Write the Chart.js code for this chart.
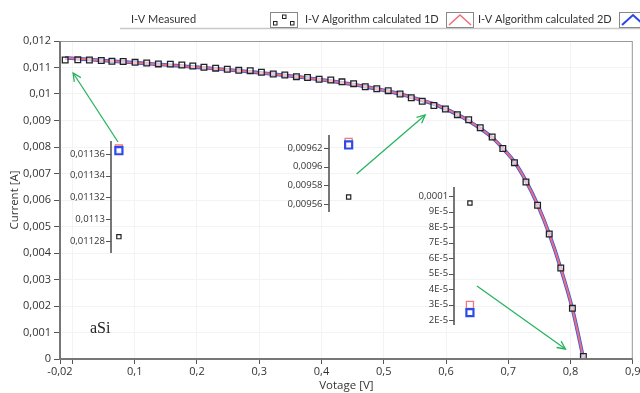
<!DOCTYPE html>
<html>
<head>
<meta charset="utf-8">
<script src="https://cdn.jsdelivr.net/npm/chart.js@4.4.0/dist/chart.umd.min.js"></script>
<style>
  html, body { margin: 0; padding: 0; background: #fff; }
  #wrap { width: 640px; height: 393px; }
</style>
</head>
<body>
<div id="wrap"><canvas id="myChart"></canvas></div>
<script>
// measured I-V points (aSi cell)
const voltage = [-0.0117, 0.0086, 0.0272, 0.0463, 0.0634, 0.0815, 0.1006, 0.1193, 0.1380, 0.1572,
    0.1757, 0.1933, 0.2112, 0.2300, 0.2487, 0.2671, 0.2855, 0.3035, 0.3225, 0.3411,
    0.3597, 0.3776, 0.3962, 0.4149, 0.4329, 0.4516, 0.4703, 0.4888, 0.5072, 0.5262,
    0.5442, 0.5618, 0.5805, 0.5990, 0.6182, 0.6364, 0.6550, 0.6741, 0.6912, 0.7099,
    0.7284, 0.7471, 0.7658, 0.7843, 0.8030, 0.8206];
const measured = [0.011284, 0.011290, 0.011285, 0.011265, 0.011234, 0.011228, 0.011196, 0.011170, 0.011135, 0.011128,
    0.011094, 0.011057, 0.011010, 0.010975, 0.010932, 0.010894, 0.010880, 0.010819, 0.010755, 0.010717,
    0.010653, 0.010623, 0.010558, 0.010528, 0.010460, 0.010389, 0.010275, 0.010200, 0.010125, 0.010000,
    0.009860, 0.009725, 0.009568, 0.009434, 0.009219, 0.009030, 0.008728, 0.008377, 0.007943, 0.007408,
    0.006679, 0.005800, 0.004717, 0.003434, 0.001913, 0.0000955];
const calc1D = [0.011365, 0.011332, 0.011302, 0.011271, 0.011241, 0.011211, 0.011180, 0.011148, 0.011118, 0.011087,
    0.011055, 0.011022, 0.010988, 0.010952, 0.010915, 0.010877, 0.010837, 0.010795, 0.010752, 0.010706,
    0.010657, 0.010605, 0.010550, 0.010491, 0.010427, 0.010357, 0.010280, 0.010196, 0.010103, 0.009999,
    0.009882, 0.009760, 0.009626, 0.009440, 0.009230, 0.008985, 0.008700, 0.008360, 0.007950, 0.007440,
    0.006720, 0.005820, 0.004720, 0.003420, 0.001900, 0.0000298];
const calc2D = [0.011363, 0.011331, 0.011301, 0.011270, 0.011241, 0.011211, 0.011181, 0.011149, 0.011118, 0.011087,
    0.011055, 0.011022, 0.010988, 0.010952, 0.010915, 0.010876, 0.010836, 0.010794, 0.010750, 0.010704,
    0.010655, 0.010603, 0.010548, 0.010489, 0.010425, 0.010355, 0.010278, 0.010194, 0.010101, 0.009997,
    0.009880, 0.009757, 0.009623, 0.009437, 0.009228, 0.008983, 0.008698, 0.008358, 0.007948, 0.007438,
    0.006718, 0.005818, 0.004718, 0.003418, 0.001898, 0.0000248];

// zoom insets: first point, knee point, last point
const insetMeasured = [0.011284, 0.0095675, 0.0000955];
const insetCalc1D = [0.011365, 0.0096264, 0.0000298];
const insetCalc2D = [0.011363, 0.0096232, 0.0000248];

// tick labels
const xTicks = [-0.02, 0, 0.1, 0.2, 0.3, 0.4, 0.5, 0.6, 0.7, 0.8, 0.9];
const yTicks = [0, 0.001, 0.002, 0.003, 0.004, 0.005, 0.006, 0.007, 0.008, 0.009, 0.01, 0.011, 0.012];
const inset1Ticks = [0.01128, 0.0113, 0.01132, 0.01134, 0.01136];
const inset2Ticks = [0.00956, 0.00958, 0.0096, 0.00962];
const inset3Ticks = [0.00002, 0.00003, 0.00004, 0.00005, 0.00006, 0.00007, 0.00008, 0.00009, 0.0001];

// inset layout (axis x, label x, point x, scale range, axis line extent)
const insets = [
    { axisX: 0.0618, labelX: 0.0522, pointX: 0.0746, min: 0.0111715, max: 0.0114639, lineTop: 0.011372, lineBottom: 0.011269 },
    { axisX: 0.4113, labelX: 0.4017, pointX: 0.4436, min: 0.0093939, max: 0.0097346, lineTop: 0.0096339, lineBottom: 0.0095514 },
    { axisX: 0.6129, labelX: 0.6033, pointX: 0.6384, min: -0.00000516, max: 0.0002, lineTop: 0.0001058, lineBottom: 0.00001677 }
];
const arrows = [
    [0.0732, 0.008189, 0.0011, 0.010792],
    [0.4564, 0.006981, 0.5666, 0.009208],
    [0.6497, 0.002755, 0.7918, 0.000377]
];

const FONT = 'Open Sans';
const commaFmt = v => String(+Number(v).toFixed(6)).replace('.', ',');
const expFmt = v => v >= 0.0000999 ? commaFmt(v) : Math.round(v * 1e5) + 'E-5';

function insetScale(cfg, ticks, fmt) {
    return {
        type: 'linear',
        position: { x: cfg.labelX },
        min: cfg.min,
        max: cfg.max,
        afterBuildTicks: s => { s.ticks = ticks.map(v => ({ value: v })); },
        afterFit: s => { s.paddingTop = 0; s.paddingBottom = 0; },
        grid: { display: false },
        border: { display: false },
        ticks: { autoSkip: false, padding: 0, color: '#333', font: { family: FONT, size: 9.5 }, callback: fmt }
    };
}

const insetDatasets = [];
insets.forEach((ins, i) => {
    const id = 'i' + (i + 1);
    insetDatasets.push({
        type: 'scatter', data: [{ x: ins.pointX, y: insetCalc2D[i] }], yAxisID: id, order: 0,
        pointStyle: 'rect', pointRadius: 5, borderColor: 'rgb(45,75,235)', borderWidth: 2.2, backgroundColor: 'rgba(255,255,255,0.8)'
    });
    insetDatasets.push({
        type: 'scatter', data: [{ x: ins.pointX, y: insetCalc1D[i] }], yAxisID: id, order: 1,
        pointStyle: 'rect', pointRadius: 5, borderColor: 'rgb(240,120,130)', borderWidth: 1.3, backgroundColor: 'rgba(255,255,255,0.8)'
    });
    insetDatasets.push({
        type: 'scatter', data: [{ x: ins.pointX, y: insetMeasured[i] }], yAxisID: id, order: 0,
        pointStyle: 'rect', pointRadius: 3, borderColor: '#222', borderWidth: 1.2, backgroundColor: 'rgba(255,255,255,0.8)'
    });
});

const decor = {
    id: 'decor',
    afterDraw(chart) {
        const { ctx, chartArea: a, scales } = chart;
        const sx = scales.x, sy = scales.y;
        ctx.save();
        // plot frame
        ctx.strokeStyle = '#999';
        ctx.lineWidth = 1;
        ctx.strokeRect(a.left + 0.5, a.top + 0.5, a.right - a.left - 1, a.bottom - a.top);
        ctx.strokeStyle = '#777';
        ctx.lineWidth = 2;
        ctx.beginPath();
        ctx.moveTo(a.left, a.top); ctx.lineTo(a.left, a.bottom); ctx.lineTo(a.right, a.bottom);
        ctx.stroke();

        // inset axis lines and tick marks
        insets.forEach((ins, i) => {
            const s = scales['i' + (i + 1)];
            const px = Math.round(sx.getPixelForValue(ins.axisX));
            ctx.strokeStyle = '#777';
            ctx.lineWidth = 2;
            ctx.beginPath();
            ctx.moveTo(px, s.getPixelForValue(ins.lineTop));
            ctx.lineTo(px, s.getPixelForValue(ins.lineBottom));
            ctx.stroke();
            ctx.strokeStyle = '#555';
            ctx.lineWidth = 1;
            s.ticks.forEach(t => {
                const py = Math.round(s.getPixelForValue(t.value)) + 0.5;
                ctx.beginPath(); ctx.moveTo(px - 5, py); ctx.lineTo(px, py); ctx.stroke();
            });
        });

        // green arrows
        ctx.strokeStyle = 'rgb(40,180,95)';
        ctx.lineWidth = 1.3;
        arrows.forEach(([x1, y1, x2, y2]) => {
            const p1x = sx.getPixelForValue(x1), p1y = sy.getPixelForValue(y1);
            const p2x = sx.getPixelForValue(x2), p2y = sy.getPixelForValue(y2);
            ctx.beginPath(); ctx.moveTo(p1x, p1y); ctx.lineTo(p2x, p2y); ctx.stroke();
            const ang = Math.atan2(p2y - p1y, p2x - p1x), h = 9;
            ctx.beginPath();
            ctx.moveTo(p2x - h * Math.cos(ang - 0.45), p2y - h * Math.sin(ang - 0.45));
            ctx.lineTo(p2x, p2y);
            ctx.lineTo(p2x - h * Math.cos(ang + 0.45), p2y - h * Math.sin(ang + 0.45));
            ctx.stroke();
        });

        // sample label
        ctx.fillStyle = '#222';
        ctx.font = '16px "Liberation Serif"';
        ctx.textBaseline = 'alphabetic';
        ctx.fillText('aSi', 90, 333);

        // legend strip
        ctx.strokeStyle = '#c8c8c8';
        ctx.lineWidth = 1.5;
        ctx.beginPath(); ctx.moveTo(120, 28.5); ctx.lineTo(640, 28.5); ctx.stroke();
        ctx.font = '11px Lato';
        ctx.fillStyle = '#333';
        ctx.textBaseline = 'middle';
        ctx.fillText('I-V Measured', 131, 19);
        ctx.fillText('I-V Algorithm calculated 1D', 305, 19);
        ctx.fillText('I-V Algorithm calculated 2D', 478, 19);
        const box = (x) => {
            ctx.fillStyle = '#fff';
            ctx.strokeStyle = '#888';
            ctx.lineWidth = 1;
            ctx.fillRect(x, 12, 27, 15);
            ctx.strokeRect(x + 0.5, 12.5, 27, 15);
        };
        box(270);
        ctx.strokeStyle = '#222';
        ctx.lineWidth = 1;
        [[273, 21], [282, 14.5], [290, 21]].forEach(([x, y]) => ctx.strokeRect(x + 0.5, y + 0.5, 3.5, 3.5));
        box(446);
        ctx.strokeStyle = 'rgb(240,110,120)';
        ctx.lineWidth = 1.5;
        ctx.beginPath(); ctx.moveTo(449, 25); ctx.lineTo(460, 15); ctx.lineTo(471, 25); ctx.stroke();
        box(619);
        ctx.strokeStyle = 'rgb(40,70,235)';
        ctx.lineWidth = 2;
        ctx.beginPath(); ctx.moveTo(622, 25); ctx.lineTo(633, 15); ctx.lineTo(644, 25); ctx.stroke();
        ctx.restore();
    }
};

const ctx = document.getElementById('myChart').getContext('2d');
const chart = new Chart(ctx, {
    type: 'line',
    data: {
        datasets: [
            {
                label: 'I-V Measured', type: 'scatter', order: 0,
                data: voltage.map((v, i) => ({ x: v, y: measured[i] })),
                pointStyle: 'rect', pointRadius: 4, borderColor: '#222', borderWidth: 1.3,
                backgroundColor: 'rgba(255,255,255,0.6)'
            },
            {
                label: 'I-V Algorithm calculated 1D', order: 2,
                data: voltage.map((v, i) => ({ x: v, y: calc1D[i] })),
                borderColor: 'rgb(240,110,120)', borderWidth: 2, pointRadius: 0, tension: 0.3, fill: false
            },
            {
                label: 'I-V Algorithm calculated 2D', order: 3,
                data: voltage.map((v, i) => ({ x: v, y: calc2D[i] })),
                borderColor: 'rgb(50,90,235)', borderWidth: 3.6, pointRadius: 0, tension: 0.3, fill: false
            },
            ...insetDatasets
        ]
    },
    options: {
        responsive: true,
        maintainAspectRatio: false,
        devicePixelRatio: 1,
        animation: false,
        layout: { padding: { left: 0, right: 4, top: 41, bottom: 0 } },
        plugins: { legend: { display: false }, tooltip: { enabled: false } },
        scales: {
            x: {
                type: 'linear', min: -0.02, max: 0.9,
                afterBuildTicks: s => { s.ticks = xTicks.map(v => ({ value: v })); },
                afterFit: s => { s.height = 34; s.paddingLeft = 0; s.paddingRight = 0; },
                grid: { color: '#f3f3f3', drawTicks: true, tickLength: 5, tickColor: '#555' },
                border: { display: false },
                ticks: {
                    autoSkip: false, maxRotation: 0, padding: 1, color: '#333',
                    font: { family: FONT, size: 11 },
                    callback: v => v === 0 ? '' : commaFmt(v)
                },
                title: { display: true, text: 'Votage [V]', color: '#333', font: { family: FONT, size: 11.5 }, padding: { top: 0, bottom: 0 } }
            },
            y: {
                type: 'linear', position: 'left', min: 0, max: 0.012,
                afterBuildTicks: s => { s.ticks = yTicks.map(v => ({ value: v })); },
                afterFit: s => { s.width = 60; s.paddingTop = 0; s.paddingBottom = 0; },
                grid: { color: '#f3f3f3', drawTicks: true, tickLength: 6, tickColor: '#555' },
                border: { display: false },
                ticks: { autoSkip: false, padding: 3, color: '#333', font: { family: FONT, size: 11 }, callback: v => commaFmt(v) },
                title: { display: true, text: 'Current [A]', color: '#333', font: { family: FONT, size: 11.5 }, padding: { top: 8, bottom: 0 } }
            },
            i1: insetScale(insets[0], inset1Ticks, commaFmt),
            i2: insetScale(insets[1], inset2Ticks, commaFmt),
            i3: insetScale(insets[2], inset3Ticks, expFmt)
        }
    },
    plugins: [decor]
});
</script>
</body>
</html>
